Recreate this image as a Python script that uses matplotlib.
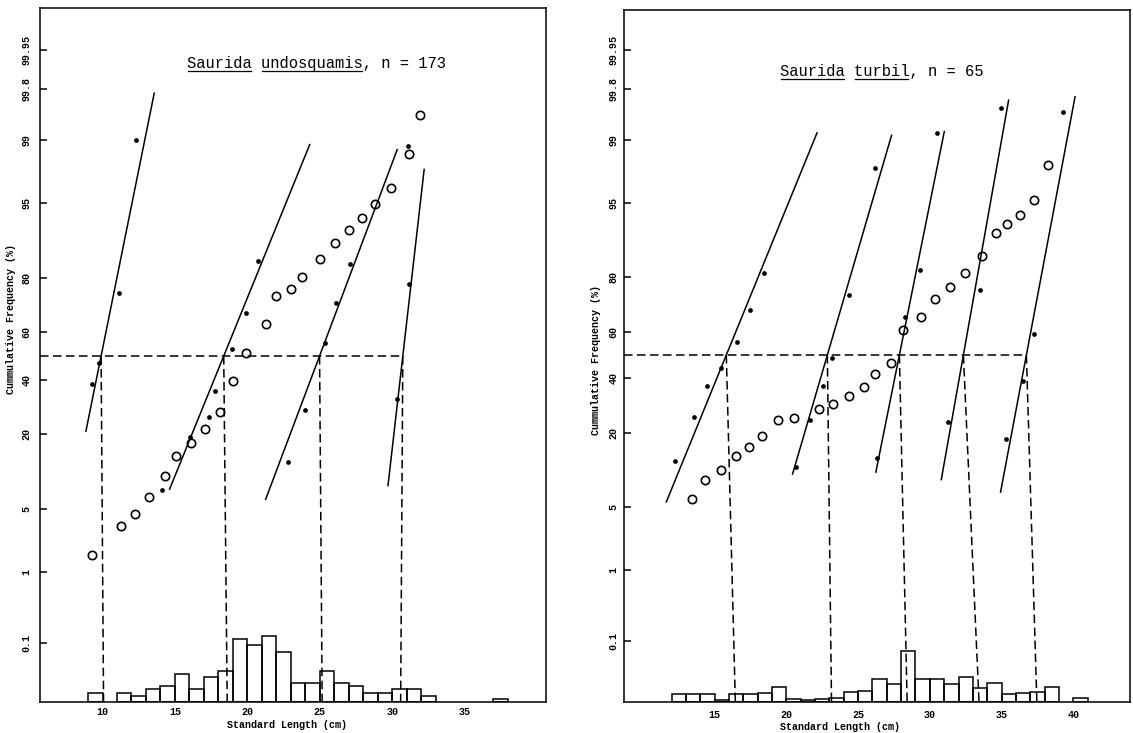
import math
import numpy as np
import matplotlib
matplotlib.use("Agg")
import matplotlib.pyplot as plt
from matplotlib.lines import Line2D

# ------------------------------------------------------------------ data
PROB_TICKS = [0.1, 1, 5, 20, 40, 60, 80, 95, 99, 99.8, 99.95]
PROB_LABELS = ["0.1", "1", "5", "20", "40", "60", "80", "95", "99", "99.8", "99.95"]

# --- Saurida undosquamis (left panel)
u_title = "Saurida undosquamis, n = 173"
u_xticks = [10, 15, 20, 25, 30, 35]
u_cum_len = [9.28, 11.29, 12.21, 13.22, 14.28, 15.10, 16.10, 17.09, 18.10, 19.02,
             19.93, 21.28, 22.00, 23.03, 23.75, 25.01, 26.04, 27.00, 27.91, 28.85,
             29.91, 31.19, 31.91]
u_cum_pct = [1.6, 3.4, 4.5, 6.4, 9.8, 14.1, 17.4, 21.6, 27.3, 39.5,
             51.2, 63.6, 74.1, 76.5, 80.2, 85.1, 88.8, 91.3, 93.1, 94.9,
             96.5, 98.5, 99.53]
u_comp_mean = [9.90, 18.37, 24.99, 30.74]
u_comp_sd = [1.297, 2.610, 2.414, 0.734]
u_line_from = [8.84, 14.61, 21.25, 29.71]
u_line_to = [13.58, 24.33, 30.37, 32.22]
u_drop_foot = [10.07, 18.61, 25.17, 30.59]
u_dot_len = [9.28, 9.78, 11.13, 12.34,
             14.11, 16.04, 17.35, 17.75, 18.96, 19.89, 20.75,
             22.80, 24.01, 25.34, 26.10, 27.09,
             30.37, 31.16, 31.12]
u_dot_pct = [38.2, 46.9, 75.1, 98.99,
             7.5, 19.2, 25.7, 35.3, 53.0, 67.9, 84.6,
             12.6, 28.2, 55.4, 71.6, 83.8,
             32.3, 78.0, 98.8]
u_bin_start = [9, 11, 12, 13, 14, 15, 16, 17, 18, 19, 20, 21, 22, 23, 24, 25,
               26, 27, 28, 29, 30, 31, 32, 37]
u_bin_count = [3, 3, 2, 4, 5, 9, 4, 8, 10, 20, 18, 21, 16, 6, 6, 10,
               6, 5, 3, 3, 4, 4, 2, 1]

# --- Saurida turbil (right panel)
t_title = "Saurida turbil, n = 65"
t_xticks = [15, 20, 25, 30, 35, 40]
t_cum_len = [13.45, 14.31, 15.44, 16.47, 17.42, 18.31, 19.41, 20.52, 22.26, 23.27,
             24.40, 25.44, 26.18, 27.28, 28.14, 29.36, 30.33, 31.40, 32.44, 33.62,
             34.61, 35.37, 36.29, 37.23, 38.22]
t_cum_pct = [5.96, 8.85, 10.7, 13.85, 16.1, 19.1, 24.1, 24.8, 27.9, 29.8,
             32.8, 36.4, 41.9, 46.4, 60.8, 66.0, 72.8, 76.9, 81.3, 85.8,
             90.6, 92.2, 93.5, 95.3, 98.0]
t_comp_mean = [15.82, 22.86, 27.88, 32.34, 36.73]
t_comp_sd = [2.635, 1.886, 1.297, 1.145, 1.216]
t_line_from = [11.62, 20.42, 26.23, 30.79, 34.92]
t_line_to = [22.16, 27.35, 31.02, 35.50, 40.13]
t_drop_foot = [16.45, 23.15, 28.42, 33.43, 37.46]
t_dot_len = [12.24, 13.57, 14.45, 15.43, 16.54, 17.47, 18.45,
             20.68, 21.65, 22.54, 23.16, 24.40, 26.21,
             26.30, 28.27, 29.34, 30.51,
             31.25, 33.51, 34.99,
             35.34, 36.49, 37.23, 39.29]
t_dot_pct = [12.7, 25.3, 36.9, 44.3, 55.7, 68.7, 81.1,
             11.4, 24.1, 36.9, 48.6, 74.2, 97.85,
             13.2, 65.8, 82.0, 99.17,
             23.4, 75.9, 99.62,
             18.2, 39.1, 58.8, 99.56]
t_bin_start = [12, 13, 14, 15, 16, 17, 18, 19, 20, 21, 22, 23, 24, 25, 26, 27,
               28, 29, 30, 31, 32, 33, 34, 35, 36, 37, 38, 40]
t_bin_freq = [2.1, 2.1, 2.1, 0.6, 2.1, 2.3, 2.6, 4.3, 0.8, 0.6, 0.8, 1.2, 2.8, 3.0,
              6.3, 4.9, 14.2, 6.5, 6.5, 5.1, 7.0, 3.8, 5.4, 2.2, 2.4, 2.8, 4.3, 1.1]


# ------------------------------------------------------------------ probit scale
def _norm_ppf(p):
    a = [-3.969683028665376e+01, 2.209460984245205e+02, -2.759285104469687e+02,
         1.383577518672690e+02, -3.066479806614716e+01, 2.506628277459239e+00]
    b = [-5.447609879822406e+01, 1.615858368580409e+02, -1.556989798598866e+02,
         6.680131188771972e+01, -1.328068155288572e+01]
    c = [-7.784894002430293e-03, -3.223964580411365e-01, -2.400758277161838e+00,
         -2.549671010229566e+00, 4.374664141464968e+00, 2.938163982698783e+00]
    d = [7.784695709041462e-03, 3.224671290700398e-01, 2.445134137142996e+00,
         3.754408661907416e+00]
    p = np.atleast_1d(np.asarray(p, dtype=float))
    z = np.full(p.shape, np.nan)
    plow, phigh = 0.02425, 1 - 0.02425
    lo = p < plow
    hi = p > phigh
    mid = (~lo) & (~hi) & np.isfinite(p)
    if lo.any():
        q = np.sqrt(-2 * np.log(p[lo]))
        z[lo] = (((((c[0]*q+c[1])*q+c[2])*q+c[3])*q+c[4])*q+c[5]) / \
                ((((d[0]*q+d[1])*q+d[2])*q+d[3])*q+1)
    if hi.any():
        q = np.sqrt(-2 * np.log(1 - p[hi]))
        z[hi] = -(((((c[0]*q+c[1])*q+c[2])*q+c[3])*q+c[4])*q+c[5]) / \
                 ((((d[0]*q+d[1])*q+d[2])*q+d[3])*q+1)
    if mid.any():
        q = p[mid] - 0.5
        r = q * q
        z[mid] = (((((a[0]*r+a[1])*r+a[2])*r+a[3])*r+a[4])*r+a[5])*q / \
                 (((((b[0]*r+b[1])*r+b[2])*r+b[3])*r+b[4])*r+1)
    return z


_erf = np.vectorize(math.erf, otypes=[float])


def pct_to_z(y):
    y = np.asarray(y, dtype=float)
    shape = y.shape
    p = np.clip(y / 100.0, 1e-15, 1 - 1e-15)
    return _norm_ppf(p).reshape(shape)


def z_to_pct(z):
    z = np.asarray(z, dtype=float)
    return 50.0 * (1.0 + _erf(z / math.sqrt(2.0)))


# ------------------------------------------------------------------ styling
FONT = "Liberation Mono"
plt.rcParams["font.family"] = [FONT, "DejaVu Sans Mono"]
W, H = 1133, 733
fig = plt.figure(figsize=(W / 100, H / 100), dpi=100)

DASH = (5.6, 2.9)


def panel(px_left, px_right, px_top, px_bottom, xlim, z_bot, z_top,
          cum_len, cum_pct, means, sds, lfrom, lto, feet, dot_len, dot_pct,
          bin_start, bin_val, px_per_unit, xticks, ytick_pad, xtick_pad,
          ylabel_xy, xlabel_xy):
    rect = [px_left / W, 1 - px_bottom / H, (px_right - px_left) / W,
            (px_bottom - px_top) / H]
    ax = fig.add_axes(rect)
    ax.set_yscale("function", functions=(pct_to_z, z_to_pct))
    ybot, ytop = float(z_to_pct(z_bot)), float(z_to_pct(z_top))
    ax.set_ylim(ybot, ytop)
    ax.set_xlim(*xlim)

    # histogram on a linear twin axis
    ax2 = ax.twinx()
    ax2.set_ylim(0, (px_bottom - px_top) / px_per_unit)
    ax2.bar(bin_start, bin_val, width=1.0, align="edge", facecolor="none",
            edgecolor="black", linewidth=1.1)
    ax2.set_yticks([])
    for s in ax2.spines.values():
        s.set_visible(False)
    ax2.tick_params(right=False, labelright=False)

    # 50 % horizontal dashed line
    ax.plot([xlim[0], means[-1]], [50, 50], color="black", lw=1.1,
            linestyle=(0, DASH))
    # fitted component lines and drop lines to the length axis
    for m, s, a, b, f in zip(means, sds, lfrom, lto, feet):
        xs = np.array([a, b])
        ax.plot(xs, z_to_pct((xs - m) / s), color="black", lw=1.1,
                solid_capstyle="butt")
        ax.plot([m, f], [50, ybot], color="black", lw=1.1,
                linestyle=(0, DASH), clip_on=False)
    # separated component points and overall cumulative frequency
    ax.plot(dot_len, dot_pct, linestyle="none", marker="o", ms=2.4,
            color="black", mec="black")
    ax.plot(cum_len, cum_pct, linestyle="none", marker="o", ms=6.0,
            mfc="none", mec="black", mew=1.2)

    ax.set_yticks(PROB_TICKS)
    ax.set_yticklabels(PROB_LABELS)
    ax.yaxis.set_minor_locator(matplotlib.ticker.NullLocator())
    ax.tick_params(axis="y", direction="in", length=5, width=1.1,
                   labelsize=7.2, pad=ytick_pad, labelrotation=90)
    for lab in ax.get_yticklabels():
        lab.set_fontweight("bold")
        lab.set_verticalalignment("center")
    ax.set_xticks(xticks)
    ax.set_xticklabels([str(v) for v in xticks])
    ax.xaxis.set_minor_locator(matplotlib.ticker.NullLocator())
    ax.tick_params(axis="x", length=0, labelsize=7.2, pad=xtick_pad)
    for lab in ax.get_xticklabels():
        lab.set_fontweight("bold")
    for s in ax.spines.values():
        s.set_linewidth(1.1)

    ax.set_ylabel("Cummulative Frequency (%)", fontsize=7.2, fontweight="bold")
    ax.yaxis.set_label_coords(*ylabel_xy)
    ax.set_xlabel("Standard Length (cm)", fontsize=7.2, fontweight="bold")
    ax.xaxis.set_label_coords(*xlabel_xy)
    return ax


axL = panel(40, 546, 8, 702, (5.68, 40.63), -3.724, 3.746,
            u_cum_len, u_cum_pct, u_comp_mean, u_comp_sd, u_line_from, u_line_to,
            u_drop_foot, u_dot_len, u_dot_pct, u_bin_start, u_bin_count, 3.15,
            u_xticks, 6, 3.5, (-0.047, 0.552), (0.489, -0.026))
axR = panel(624, 1130, 10, 702, (8.69, 43.95), -3.747, 3.726,
            t_cum_len, t_cum_pct, t_comp_mean, t_comp_sd, t_line_from, t_line_to,
            t_drop_foot, t_dot_len, t_dot_pct, t_bin_start, t_bin_freq, 3.6,
            t_xticks, 4, 6, (-0.046, 0.494), (0.427, -0.029))

# titles (typewriter style, with underlined genus / species)
titles = []
tL = axL.text(0.547, 0.9135, u_title, transform=axL.transAxes, ha="center",
              va="baseline", fontsize=11.2)
titles.append((axL, tL, (0.547, 0.9135), [(0, 7), (8, 19)]))
tR = axR.text(0.509, 0.9046, t_title, transform=axR.transAxes, ha="center",
              va="baseline", fontsize=11.2)
titles.append((axR, tR, (0.509, 0.9046), [(0, 7), (8, 14)]))

fig.canvas.draw()
renderer = fig.canvas.get_renderer()
inv = fig.transFigure.inverted()
for ax, t, pos, spans in titles:
    bb = t.get_window_extent(renderer)
    cw = bb.width / len(t.get_text())
    base = ax.transAxes.transform(pos)[1]
    for i0, i1 in spans:
        (x0, y0), (x1, y1) = inv.transform([(bb.x0 + i0 * cw + 1, base - 3),
                                            (bb.x0 + i1 * cw - 1, base - 3)])
        fig.add_artist(Line2D([x0, x1], [y0, y1], color="black", lw=0.9))

fig.savefig("out.png", dpi=100)
